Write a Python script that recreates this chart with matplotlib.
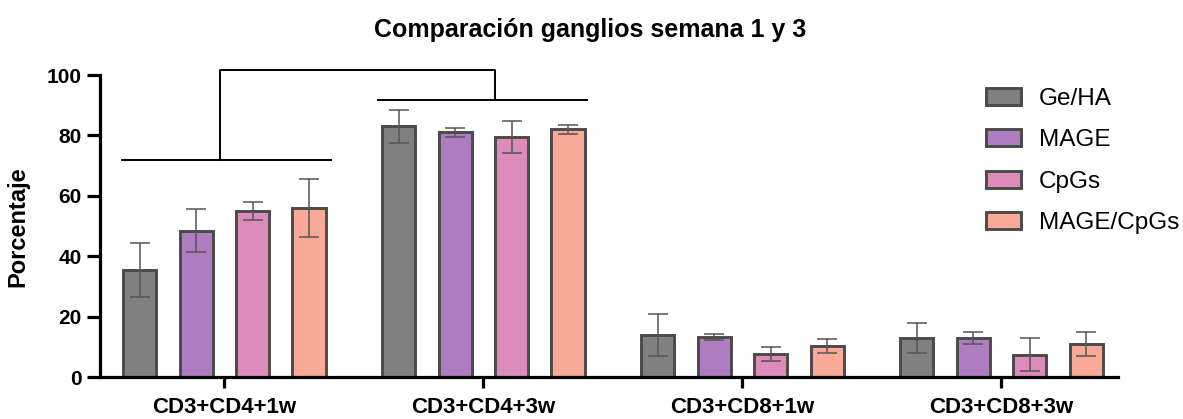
import matplotlib
matplotlib.use("Agg")
import matplotlib.pyplot as plt
import numpy as np
from matplotlib.patches import Patch

plt.rcParams['font.family'] = ['Liberation Sans', 'DejaVu Sans']

# Data
groups = ["CD3+CD4+1w", "CD3+CD4+3w", "CD3+CD8+1w", "CD3+CD8+3w"]
series = ["Ge/HA", "MAGE", "CpGs", "MAGE/CpGs"]
ge_ha = [35.5, 83.0, 13.8, 12.8]
mage = [48.5, 81.0, 13.2, 12.8]
cpgs = [55.0, 79.5, 7.7, 7.4]
mage_cpgs = [56.0, 82.0, 10.2, 11.0]
ge_ha_err = [9.0, 5.5, 7.0, 5.0]
mage_err = [7.0, 1.5, 1.0, 2.0]
cpgs_err = [3.0, 5.3, 2.3, 5.5]
mage_cpgs_err = [9.5, 1.5, 2.4, 4.0]
yticks = [0, 20, 40, 60, 80, 100]

values = [ge_ha, mage, cpgs, mage_cpgs]
errors = [ge_ha_err, mage_err, cpgs_err, mage_cpgs_err]
colors = ["#808080", "#ae7cbf", "#dc8bbb", "#f8a998"]
edge = "#4a4a4a"

W, H = 1183, 419
fig = plt.figure(figsize=(W / 100, H / 100), dpi=100)
ax = fig.add_axes([100 / W, (H - 377) / H, (1118 - 100) / W, (377 - 75) / H])

x = np.arange(len(groups))
step = 0.218
width = 0.128
offsets = (np.arange(len(series)) - 1.5) * step

for vals, errs, col, off in zip(values, errors, colors, offsets):
    ax.bar(x + off, vals, width=width, color=col, edgecolor=edge,
           linewidth=2.1, zorder=2)
    ax.errorbar(x + off, vals, yerr=errs, fmt="none", ecolor="#555555",
                elinewidth=1.1, capsize=7, capthick=1.1, zorder=3)

ax.set_xlim(-0.48, 3.45)
ax.set_ylim(0, 100)
ax.set_yticks(yticks)
ax.set_xticks(x)
ax.set_xticklabels(groups, fontsize=16, fontweight="bold")
for lab in ax.get_yticklabels():
    lab.set_fontsize(15)
    lab.set_fontweight("bold")

for s in ["top", "right"]:
    ax.spines[s].set_visible(False)
for s in ["left", "bottom"]:
    ax.spines[s].set_linewidth(2.3)
ax.tick_params(axis="y", length=9.5, width=2.3, pad=3.5)
ax.tick_params(axis="x", length=8, width=2.3, pad=6.5)

# Significance bracket between week 1 and week 3 CD4 groups
bl = dict(color="black", lw=1.4, clip_on=False, zorder=4)
ax.plot([-0.395, 0.41], [71.9, 71.9], **bl)
ax.plot([0.595, 1.40], [91.8, 91.8], **bl)
ax.plot([-0.015, -0.015, 1.045, 1.045], [71.9, 101.7, 101.7, 91.8], **bl)

fig.text(0.499, 1 - 37 / H, "Comparación ganglios semana 1 y 3",
         ha="center", va="baseline", fontsize=18, fontweight="bold")
fig.text(18 / W, 1 - 227 / H, "Porcentaje", rotation=90, ha="center",
         va="center", fontsize=17, fontweight="bold")

handles = [Patch(facecolor=c, edgecolor=edge, linewidth=2.1) for c in colors]
fig.legend(handles, series, loc="upper left",
           bbox_to_anchor=(986 / W, 1 - 88 / H), frameon=False,
           fontsize=17.5, handlelength=1.45, handleheight=0.7,
           handletextpad=0.72, labelspacing=0.8, borderpad=0,
           borderaxespad=0)

fig.savefig("out.png", dpi=100)
